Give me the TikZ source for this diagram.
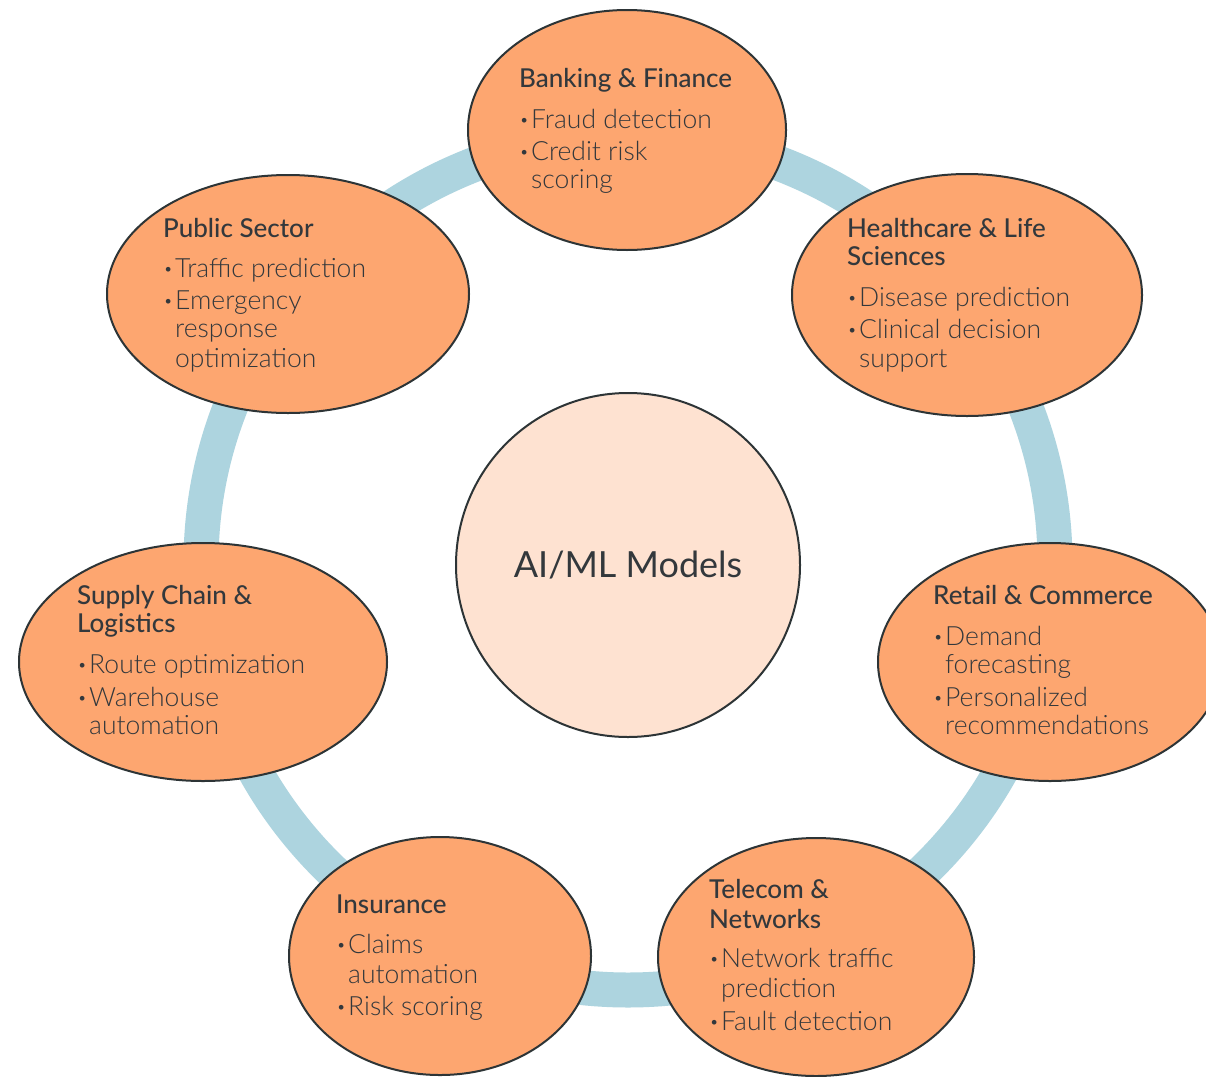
\documentclass[tikz,border=0pt]{standalone}
\usepackage{fontspec}
\usetikzlibrary{shapes.geometric}
\IfFontExistsTF{Lato Light}{\newfontfamily\lightf{Lato Light}}{\newfontfamily\lightf{Lato}}
\IfFontExistsTF{Lato Medium}{\newfontfamily\medf{Lato Medium}}{\newfontfamily\medf{Lato}}
\newfontfamily\regf{Lato}
\definecolor{ringc}{RGB}{173,212,223}
\definecolor{petal}{RGB}{253,166,112}
\definecolor{hub}{RGB}{254,226,209}
\definecolor{edgec}{RGB}{45,52,54}
\definecolor{txt}{RGB}{51,56,60}
\newcommand\bul{\makebox[12pt][l]{\hspace{0.5pt}\raisebox{3pt}{\fontsize{16}{16}\selectfont •}}}
\begin{document}
\begin{tikzpicture}[x=1pt,y=-1pt,
  petalnode/.style={ellipse, draw=edgec, line width=2pt, fill=petal, inner sep=0pt},
  ttl/.style={anchor=base west, inner sep=0pt, text=txt, font=\medf\fontsize{26}{26}\selectfont},
  itm/.style={anchor=base west, inner sep=0pt, text=txt, font=\lightf\fontsize{26.5}{26.5}\selectfont}]
\useasboundingbox[fill=white] (0,0) rectangle (1206,1076);
% ring
\node[circle, draw=ringc, line width=35pt, minimum size=854pt, inner sep=0pt] (ring) at (628,563) {};
% hub
\node[circle, draw=edgec, line width=2pt, fill=hub, minimum size=344pt, inner sep=0pt] (hub) at (628,565) {};
\node[anchor=base, inner sep=0pt, text=txt, font=\regf\fontsize{36}{36}\selectfont] (hubtxt) at (628,577) {AI/ML Models};
% petals
\node[petalnode, minimum width=318pt, minimum height=240pt] (bank) at (627,130) {};
\node[petalnode, minimum width=350pt, minimum height=242pt] (health) at (967,295) {};
\node[petalnode, minimum width=344pt, minimum height=238pt] (retail) at (1050,662) {};
\node[petalnode, minimum width=316pt, minimum height=238pt] (tele) at (816,957) {};
\node[petalnode, minimum width=302pt, minimum height=238pt] (ins) at (440,956) {};
\node[petalnode, minimum width=368pt, minimum height=238pt] (supply) at (203,662) {};
\node[petalnode, minimum width=362pt, minimum height=238pt] (public) at (288,294) {};
% Banking
\node[ttl] (bankT) at (519,87) {Banking \& Finance};
\node[itm] (bankA) at (519,128) {\bul Fraud detection};
\node[itm] (bankB) at (519,160) {\bul Credit risk};
\node[itm] (bankBb) at (531,188) {scoring};
% Healthcare
\node[ttl] (healthT) at (847,237) {Healthcare \& Life};
\node[ttl] (healthTb) at (847,265) {Sciences};
\node[itm] (healthA) at (847,306) {\bul Disease prediction};
\node[itm] (healthB) at (847,338) {\bul Clinical decision};
\node[itm] (healthBb) at (859,367) {support};
% Retail
\node[ttl] (retailT) at (933,604) {Retail \& Commerce};
\node[itm] (retailA) at (933,645) {\bul Demand};
\node[itm] (retailAb) at (945,673) {forecasting};
\node[itm] (retailB) at (933,706) {\bul Personalized};
\node[itm] (retailBb) at (945,734) {recommendations};
% Supply chain
\node[ttl] (supplyT) at (77,604) {Supply Chain \&};
\node[ttl] (supplyTb) at (77,632) {Logistics};
\node[itm] (supplyA) at (77,673) {\bul Route optimization};
\node[itm] (supplyB) at (77,706) {\bul Warehouse};
\node[itm] (supplyBb) at (89,734) {automation};
% Insurance
\node[ttl] (insT) at (336,913) {Insurance};
\node[itm] (insA) at (336,953) {\bul Claims};
\node[itm] (insAb) at (348,983) {automation};
\node[itm] (insB) at (336,1015) {\bul Risk scoring};
% Telecom
\node[ttl] (teleT) at (709,898) {Telecom \&};
\node[ttl] (teleTb) at (709,928) {Networks};
\node[itm] (teleA) at (709,967) {\bul Network traffic};
\node[itm] (teleAb) at (721,997) {prediction};
\node[itm] (teleB) at (709,1030) {\bul Fault detection};
% Public sector
\node[ttl] (publicT) at (163,237) {Public Sector};
\node[itm] (publicA) at (163,277) {\bul Traffic prediction};
\node[itm] (publicB) at (163,309) {\bul Emergency};
\node[itm] (publicBb) at (175,337) {response};
\node[itm] (publicBc) at (175,367) {optimization};
\end{tikzpicture}
\end{document}
